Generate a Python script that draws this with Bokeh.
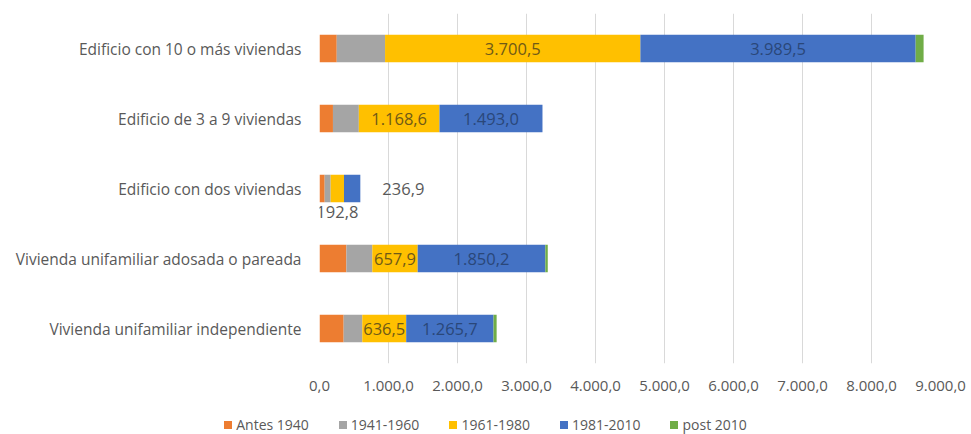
from bokeh.plotting import figure
from bokeh.layouts import column
from bokeh.models import ColumnDataSource, Range1d, FixedTicker, FactorRange, Div
from bokeh.core.properties import value
from bokeh.embed import file_html
from bokeh.resources import INLINE

categories = [
    "Edificio con 10 o más viviendas",
    "Edificio de 3 a 9 viviendas",
    "Edificio con dos viviendas",
    "Vivienda unifamiliar adosada o pareada",
    "Vivienda unifamiliar independiente",
]
series_names = ["Antes 1940", "1941-1960", "1961-1980", "1981-2010", "post 2010"]
antes_1940 = [250, 195, 75, 390, 350]
s_1941_1960 = [700, 375, 87, 375, 270]
s_1961_1980 = [3700.5, 1168.6, 192.8, 657.9, 636.5]
s_1981_2010 = [3989.5, 1493.0, 236.9, 1850.2, 1265.7]
post_2010 = [115, 0, 0, 35, 45]
tick_values = [0, 1000, 2000, 3000, 4000, 5000, 6000, 7000, 8000, 9000]
tick_labels = ["0,0", "1.000,0", "2.000,0", "3.000,0", "4.000,0", "5.000,0",
               "6.000,0", "7.000,0", "8.000,0", "9.000,0"]

colors = ["#ED7D31", "#A5A5A5", "#FFC000", "#4472C4", "#70AD47"]
FONT = "Open Sans"
GRAY = "#595959"


def fmt(v):
    s = f"{v:,.1f}"
    return s.replace(",", "X").replace(".", ",").replace("X", ".")


keys = ["a", "b", "c", "d", "e"]
series = [antes_1940, s_1941_1960, s_1961_1980, s_1981_2010, post_2010]
data = {"cat": categories}
for k, s in zip(keys, series):
    data[k] = s
source = ColumnDataSource(data)

p = figure(
    y_range=FactorRange(*reversed(categories)),
    x_range=Range1d(0, 9000),
    frame_width=621, frame_height=350,
    output_backend="svg", toolbar_location=None,
    min_border_left=319, min_border_right=31, min_border_top=13, min_border_bottom=45,
)

renderers = p.hbar_stack(keys, y="cat", height=0.39, color=colors, source=source, line_color=None)

# data labels
in_x, in_y, in_t, in_c = [], [], [], []
out_below = {"x": [], "y": [], "t": []}
out_right = {"x": [], "y": [], "t": []}
for i, cat in enumerate(categories):
    start_c = antes_1940[i] + s_1941_1960[i]
    mid_c = start_c + s_1961_1980[i] / 2
    start_d = start_c + s_1961_1980[i]
    mid_d = start_d + s_1981_2010[i] / 2
    end_d = start_d + s_1981_2010[i]
    if cat == "Edificio con dos viviendas":
        out_below["x"].append(mid_c); out_below["y"].append(cat); out_below["t"].append(fmt(s_1961_1980[i]))
        out_right["x"].append(end_d); out_right["y"].append(cat); out_right["t"].append(fmt(s_1981_2010[i]))
    else:
        in_x += [mid_c, mid_d]
        in_y += [cat, cat]
        in_t += [fmt(s_1961_1980[i]), fmt(s_1981_2010[i])]
        in_c += ["#6F5A17", "#2A4779"]

LBL = "16.5px"
p.text(x=in_x, y=in_y, text=in_t, text_color=in_c, text_font=value(FONT),
       text_font_size=LBL, text_align="center", text_baseline="middle")
p.text(x=out_below["x"], y=out_below["y"], text=out_below["t"], text_color=GRAY,
       text_font=value(FONT), text_font_size=LBL, text_align="center",
       text_baseline="middle", y_offset=23)
p.text(x=out_right["x"], y=out_right["y"], text=out_right["t"], text_color=GRAY,
       text_font=value(FONT), text_font_size=LBL, text_align="left",
       text_baseline="middle", x_offset=22)

# axes
p.xaxis.ticker = FixedTicker(ticks=tick_values)
p.xaxis.major_label_overrides = dict(zip(tick_values, tick_labels))
for ax in (p.xaxis, p.yaxis):
    ax.axis_line_color = None
    ax.major_tick_line_color = None
    ax.minor_tick_line_color = None
    ax.major_label_text_color = GRAY
    ax.major_label_text_font = FONT
p.yaxis.major_label_text_font_size = "15.5px"
p.xaxis.major_label_text_font_size = "15px"
p.yaxis.major_label_standoff = 12
p.xaxis.major_label_standoff = 11
p.ygrid.grid_line_color = None
p.xgrid.grid_line_color = "#D9D9D9"
p.xgrid.grid_line_width = 1
p.outline_line_color = None
p.y_range.range_padding = 0
p.y_range.factor_padding = 0

# legend strip below the chart (centred, like the original)
items_html = "".join(
    f'<span style="display:inline-flex;align-items:center;margin:0 15px;">'
    f'<span style="display:inline-block;width:8px;height:8px;background:{c};margin-right:4px;"></span>'
    f'{n}</span>'
    for n, c in zip(series_names, colors)
)
legend_div = Div(
    text=f'<div style="width:971px;text-align:center;font-family:\'{FONT}\';'
         f'font-size:14px;color:{GRAY};line-height:16px;padding-top:8px;">{items_html}</div>',
    width=971, height=26, margin=(0, 0, 0, 0),
)

layout = column(p, legend_div, spacing=0)
open("out.html", "w").write(file_html(layout, INLINE))
